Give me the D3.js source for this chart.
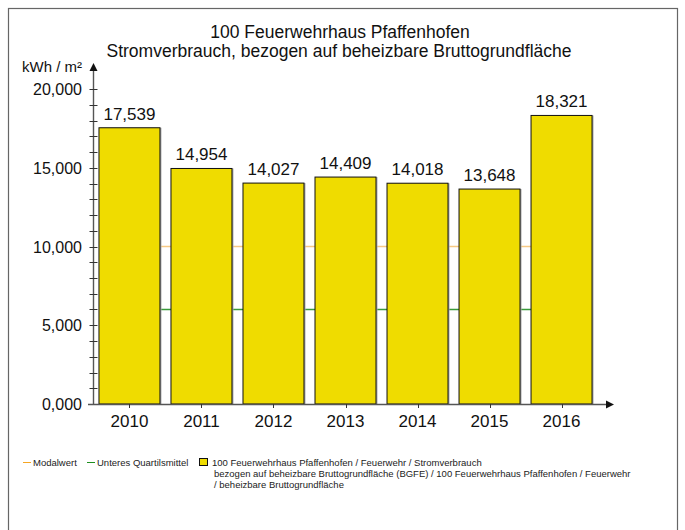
<!DOCTYPE html>
<html>
<head>
<meta charset="utf-8">
<script src="https://cdn.jsdelivr.net/npm/d3@7"></script>
<style>
  html, body { margin: 0; padding: 0; background: #fff; }
  svg { display: block; font-family: "Liberation Sans", Arial, Helvetica, sans-serif; }
</style>
</head>
<body>
<svg id="chart" width="685" height="530"></svg>
<script>
// Stromverbrauch je m² beheizbarer Bruttogrundfläche, Jahre 2010–2016
const years = ["2010", "2011", "2012", "2013", "2014", "2015", "2016"];
const consumption = [17.539, 14.954, 14.027, 14.409, 14.018, 13.648, 18.321];
const modalValue = 10.0;          // Modalwert
const lowerQuartileMean = 6.0;    // Unteres Quartilsmittel
const yMajorTicks = [0, 5, 10, 15, 20];
const yMinorTicks = d3.range(0, 21, 1);

const titleLines = [
  "100 Feuerwehrhaus Pfaffenhofen",
  "Stromverbrauch, bezogen auf beheizbare Bruttogrundfläche"
];
const unitLabel = "kWh / m²";
const legendItems = ["Modalwert", "Unteres Quartilsmittel"];
const seriesLegend = [
  "100 Feuerwehrhaus Pfaffenhofen / Feuerwehr / Stromverbrauch",
  "bezogen auf beheizbare Bruttogrundfläche (BGFE) / 100 Feuerwehrhaus Pfaffenhofen / Feuerwehr",
  "/ beheizbare Bruttogrundfläche"
];

// German number format: comma as decimal separator
const de = d3.formatLocale({ decimal: ",", thousands: ".", grouping: [3], currency: ["", " €"] });
const fmt = de.format(".3f");

const svg = d3.select("#chart");
const axisColor = "#555";
const barFill = "#efdc00";
const modalColor = "#f7c984";
const quartColor = "#3a9a3a";

// outer frame
svg.append("rect")
  .attr("x", 8.5).attr("y", 8.5).attr("width", 669).attr("height", 540)
  .attr("fill", "none").attr("stroke", "#666").attr("stroke-width", 1.2);

// scales
const x = d3.scaleBand()
  .domain(years)
  .range([94, 597])
  .paddingInner(0.153)
  .paddingOuter(0.069);

const y = d3.scaleLinear().domain([0, 20]).range([404, 89]);
const yTop = 63;
const xRight = 614;

// titles
svg.append("text").attr("x", 340).attr("y", 38).attr("text-anchor", "middle")
  .attr("font-size", 17.5).attr("fill", "#111").text(titleLines[0]);
svg.append("text").attr("x", 339).attr("y", 57).attr("text-anchor", "middle")
  .attr("font-size", 17.5).attr("fill", "#111").text(titleLines[1]);

// reference lines (behind bars)
const refX0 = x(years[0]);
const refX1 = x(years[years.length - 1]) + x.bandwidth() / 2;
svg.append("line")
  .attr("x1", refX0).attr("x2", refX1)
  .attr("y1", y(modalValue)).attr("y2", y(modalValue))
  .attr("stroke", modalColor).attr("stroke-width", 1.3);
svg.append("line")
  .attr("x1", refX0).attr("x2", refX1)
  .attr("y1", y(lowerQuartileMean)).attr("y2", y(lowerQuartileMean))
  .attr("stroke", quartColor).attr("stroke-width", 1.3);

// bars with a thin grey edge on the right
const bars = svg.append("g");
bars.selectAll("rect.shadow")
  .data(consumption)
  .join("rect")
  .attr("class", "shadow")
  .attr("x", (d, i) => x(years[i]) + 1.5)
  .attr("y", d => y(d))
  .attr("width", x.bandwidth())
  .attr("height", d => y(0) - y(d))
  .attr("fill", "#aaa");
bars.selectAll("rect.bar")
  .data(consumption)
  .join("rect")
  .attr("class", "bar")
  .attr("x", (d, i) => x(years[i]))
  .attr("y", d => y(d))
  .attr("width", x.bandwidth())
  .attr("height", d => y(0) - y(d))
  .attr("fill", barFill)
  .attr("stroke", "#111")
  .attr("stroke-width", 1);

// value labels
svg.append("g").selectAll("text")
  .data(consumption)
  .join("text")
  .attr("x", (d, i) => x(years[i]) + x.bandwidth() / 2)
  .attr("y", d => y(d) - 8)
  .attr("text-anchor", "middle")
  .attr("font-size", 17)
  .attr("fill", "#111")
  .text(d => fmt(d));

// y axis
const yAxisG = svg.append("g");
yAxisG.append("line")
  .attr("x1", 93.5).attr("x2", 93.5).attr("y1", y(0)).attr("y2", yTop + 6)
  .attr("stroke", axisColor).attr("stroke-width", 1.4);
yAxisG.append("path")
  .attr("d", `M93.5,${yTop} L89.5,${yTop + 8} L97.5,${yTop + 8} Z`)
  .attr("fill", "#111");
yAxisG.selectAll("line.tick")
  .data(yMinorTicks)
  .join("line")
  .attr("class", "tick")
  .attr("x1", 89.5).attr("x2", 97.5)
  .attr("y1", d => Math.round(y(d)) + 0.5).attr("y2", d => Math.round(y(d)) + 0.5)
  .attr("stroke", "#333").attr("stroke-width", 1);
yAxisG.selectAll("text")
  .data(yMajorTicks)
  .join("text")
  .attr("x", 82)
  .attr("y", d => y(d) + 6)
  .attr("text-anchor", "end")
  .attr("font-size", 16)
  .attr("fill", "#111")
  .text(d => fmt(d));
svg.append("text").attr("x", 82).attr("y", 72).attr("text-anchor", "end")
  .attr("font-size", 15).attr("fill", "#111").text(unitLabel);

// x axis
const xAxisG = svg.append("g");
xAxisG.append("line")
  .attr("x1", 88).attr("x2", xRight - 6).attr("y1", 404.5).attr("y2", 404.5)
  .attr("stroke", axisColor).attr("stroke-width", 1.4);
xAxisG.append("path")
  .attr("d", `M${xRight},404.5 L${xRight - 8},400.5 L${xRight - 8},408.5 Z`)
  .attr("fill", "#111");
xAxisG.selectAll("line.tick")
  .data(years)
  .join("line")
  .attr("class", "tick")
  .attr("x1", d => Math.round(x(d) + x.bandwidth() / 2) + 0.5)
  .attr("x2", d => Math.round(x(d) + x.bandwidth() / 2) + 0.5)
  .attr("y1", 404).attr("y2", 408)
  .attr("stroke", "#333");
xAxisG.selectAll("text")
  .data(years)
  .join("text")
  .attr("x", d => x(d) + x.bandwidth() / 2)
  .attr("y", 427)
  .attr("text-anchor", "middle")
  .attr("font-size", 17)
  .attr("fill", "#111")
  .text(d => d);

// legend
const lg = svg.append("g").attr("font-size", 9.5).attr("fill", "#222");
lg.append("line").attr("x1", 23).attr("x2", 31).attr("y1", 462.5).attr("y2", 462.5)
  .attr("stroke", "#f5a623").attr("stroke-width", 1);
lg.append("text").attr("x", 33).attr("y", 466).text(legendItems[0]);
lg.append("line").attr("x1", 87).attr("x2", 95).attr("y1", 462.5).attr("y2", 462.5)
  .attr("stroke", "#1f8f1f").attr("stroke-width", 1);
lg.append("text").attr("x", 97).attr("y", 466).text(legendItems[1]);
lg.append("rect").attr("x", 199.5).attr("y", 458.5).attr("width", 8).attr("height", 7)
  .attr("fill", barFill).attr("stroke", "#111").attr("stroke-width", 1);
lg.append("text").attr("x", 212).attr("y", 466).text(seriesLegend[0]);
lg.append("text").attr("x", 214).attr("y", 477).text(seriesLegend[1]);
lg.append("text").attr("x", 214).attr("y", 488).text(seriesLegend[2]);
</script>
</body>
</html>
